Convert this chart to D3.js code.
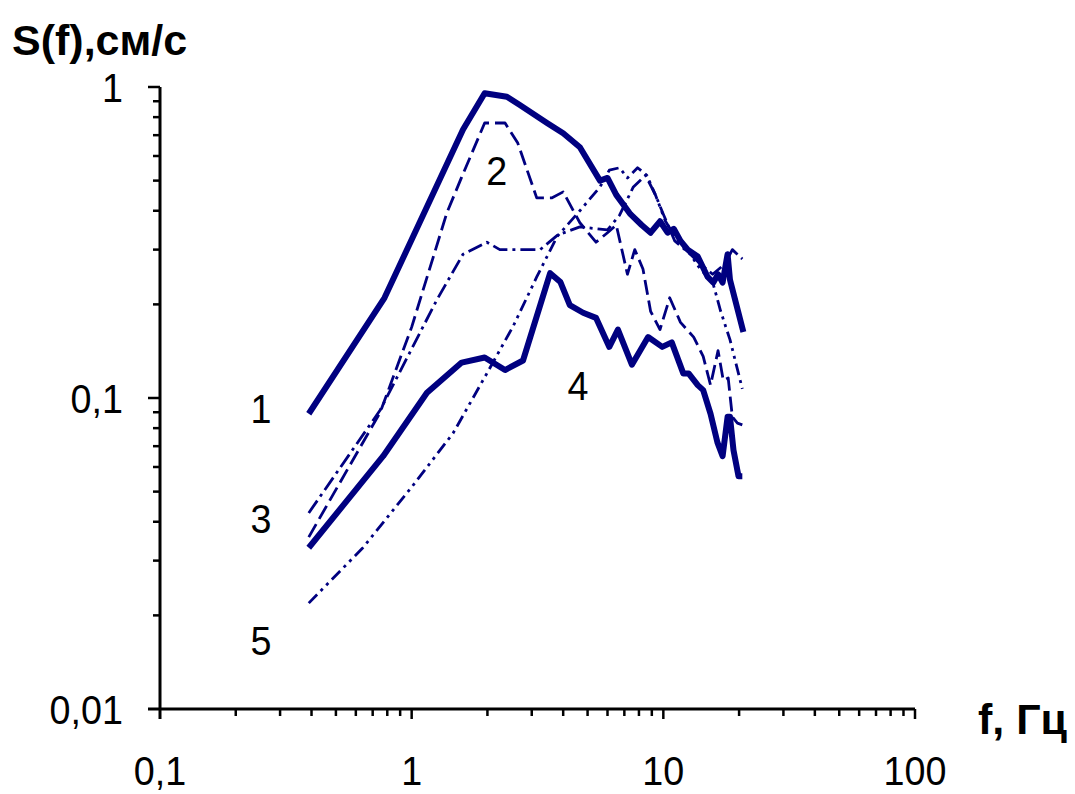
<!DOCTYPE html>
<html>
<head>
<meta charset="utf-8">
<script src="https://cdn.jsdelivr.net/npm/d3@7"></script>
<style>
  body { margin: 0; background: #fff; }
  svg { display: block; }
  text { font-family: Arial, "Liberation Sans", sans-serif; }
</style>
</head>
<body>
<svg id="chart"></svg>
<script>
// spectra: [f, S]
const curve1 = [
  [0.39, 0.089], [0.78, 0.21], [1.6, 0.73], [1.95, 0.955], [2.39, 0.93],
  [2.69, 0.875], [3.45, 0.766], [4.0, 0.71], [4.66, 0.64], [5.6, 0.5],
  [6.0, 0.51], [6.5, 0.45], [7.4, 0.39], [8.2, 0.36], [8.9, 0.34],
  [9.7, 0.37], [10.4, 0.34], [11.0, 0.35], [11.7, 0.32], [12.5, 0.3],
  [13.7, 0.285], [15.0, 0.245], [15.8, 0.235], [16.5, 0.25], [17.2, 0.235],
  [18.0, 0.29], [18.4, 0.24], [20.8, 0.163]
];
const curve2 = [
  [0.39, 0.0357], [0.75, 0.09], [1.0, 0.169], [1.38, 0.394], [1.58, 0.513],
  [1.95, 0.766], [2.35, 0.766], [2.64, 0.66], [3.14, 0.44], [3.6, 0.44],
  [4.0, 0.46], [4.66, 0.366], [5.4, 0.317], [6.0, 0.34], [6.5, 0.36],
  [7.2, 0.25], [7.7, 0.3], [8.3, 0.26], [8.9, 0.19], [9.7, 0.166],
  [10.6, 0.21], [11.7, 0.175], [13.2, 0.157], [14.4, 0.136], [15.4, 0.11],
  [16.5, 0.142], [17.3, 0.114], [18.1, 0.116], [18.8, 0.087], [19.7, 0.083],
  [20.6, 0.082]
];
const curve3 = [
  [0.39, 0.0427], [0.75, 0.0915], [1.26, 0.207], [1.6, 0.29], [1.99, 0.317],
  [2.24, 0.3], [3.24, 0.3], [3.8, 0.334], [4.66, 0.355], [6.0, 0.347],
  [6.7, 0.387], [7.6, 0.477], [8.5, 0.52], [9.3, 0.45], [10.0, 0.39],
  [11.1, 0.32], [12.8, 0.29], [14.0, 0.27], [15.7, 0.25], [17.6, 0.27],
  [18.8, 0.3], [20.6, 0.28]
];
const curve4 = [
  [0.39, 0.033], [0.77, 0.065], [1.15, 0.104], [1.58, 0.13], [1.95, 0.135],
  [2.35, 0.123], [2.77, 0.132], [3.55, 0.252], [3.9, 0.236], [4.25, 0.199],
  [4.8, 0.188], [5.4, 0.181], [6.1, 0.146], [6.6, 0.166], [7.5, 0.128],
  [8.7, 0.157], [9.9, 0.146], [10.8, 0.151], [12.0, 0.12], [12.6, 0.12],
  [13.7, 0.11], [14.4, 0.106], [15.4, 0.089], [16.4, 0.072], [17.2, 0.065],
  [18.0, 0.087], [18.4, 0.087], [19.0, 0.068], [19.9, 0.056], [20.6, 0.056]
];
const curve5 = [
  [0.39, 0.0219], [0.64, 0.033], [1.0, 0.0517], [1.46, 0.077], [1.99, 0.12],
  [2.53, 0.17], [3.14, 0.245], [3.78, 0.33], [4.66, 0.4], [5.6, 0.477],
  [6.1, 0.54], [6.7, 0.55], [7.2, 0.51], [7.9, 0.55], [8.6, 0.52],
  [9.3, 0.45], [10.2, 0.37], [11.1, 0.33], [12.8, 0.29], [14.0, 0.26],
  [15.7, 0.236], [16.9, 0.19], [18.4, 0.154], [20.6, 0.107]
];

const xTickValues = [0.1, 1, 10, 100];
const xTickLabels = ["0,1", "1", "10", "100"];
const yTickValues = [0.01, 0.1, 1];
const yTickLabels = ["0,01", "0,1", "1"];

// curve number labels, placed at [f, S]
const curveLabels = [
  { text: "1", at: [0.252, 0.093] },
  { text: "3", at: [0.252, 0.041] },
  { text: "5", at: [0.252, 0.0167] },
  { text: "2", at: [2.18, 0.54] },
  { text: "4", at: [4.58, 0.11] }
];

const width = 1075;
const height = 794;
const navy = "#000080";

const svg = d3.select("#chart").attr("width", width).attr("height", height);

const x = d3.scaleLog().domain([0.1, 100]).range([160, 915]);
const y = d3.scaleLog().domain([0.01, 1]).range([709, 87]);

// slightly narrow digits, like the original
function label(g, px, py, txt, anchor) {
  return g.append("text")
    .attr("transform", `translate(${px},${py}) scale(0.92,1)`)
    .attr("text-anchor", anchor)
    .attr("font-size", 41)
    .text(txt);
}

// axes drawn by hand so the minor ticks look like the original
const axes = svg.append("g").attr("stroke", "#000").attr("stroke-width", 3);

axes.append("line")
  .attr("x1", x(0.1) - 12).attr("x2", x(100))
  .attr("y1", y(0.01)).attr("y2", y(0.01));
axes.append("line")
  .attr("x1", x(0.1)).attr("x2", x(0.1))
  .attr("y1", y(1)).attr("y2", y(0.01) + 10);

x.ticks().forEach(t => {
  const major = xTickValues.includes(t);
  if (t === 0.1) return;
  axes.append("line")
    .attr("x1", x(t)).attr("x2", x(t))
    .attr("y1", y(0.01)).attr("y2", y(0.01) + (major ? 10 : 7))
    .attr("stroke-width", 2.5);
});
y.ticks().forEach(t => {
  const major = yTickValues.includes(t);
  if (t === 0.01) return;
  axes.append("line")
    .attr("x1", x(0.1) - (major ? 12 : 7)).attr("x2", x(0.1))
    .attr("y1", y(t)).attr("y2", y(t))
    .attr("stroke-width", 2.5);
});

const tickText = svg.append("g");
xTickValues.forEach((v, i) => label(tickText, x(v), 785, xTickLabels[i], "middle"));
yTickValues.forEach((v, i) => label(tickText, 123, y(v) + 15, yTickLabels[i], "end"));

// axis titles
svg.append("text")
  .attr("x", 12).attr("y", 55)
  .attr("font-size", 43).attr("font-weight", "bold")
  .text("S(f),см/с");
svg.append("text")
  .attr("x", 978).attr("y", 734)
  .attr("font-size", 43).attr("font-weight", "bold")
  .text("f, Гц");

// curves
const line = d3.line().x(d => x(d[0])).y(d => y(d[1]));

const series = [
  { data: curve5, width: 2.8, dash: "12,5,3,5,3,5" },
  { data: curve3, width: 2.8, dash: "15,5,3,5" },
  { data: curve2, width: 2.8, dash: "15,6" },
  { data: curve4, width: 6, dash: null },
  { data: curve1, width: 6, dash: null }
];

svg.append("g").selectAll("path")
  .data(series)
  .join("path")
  .attr("d", d => line(d.data))
  .attr("fill", "none")
  .attr("stroke", navy)
  .attr("stroke-width", d => d.width)
  .attr("stroke-linejoin", "round")
  .attr("stroke-dasharray", d => d.dash);

const curveText = svg.append("g");
curveLabels.forEach(d => label(curveText, x(d.at[0]), y(d.at[1]) + 15, d.text, "middle"));
</script>
</body>
</html>
